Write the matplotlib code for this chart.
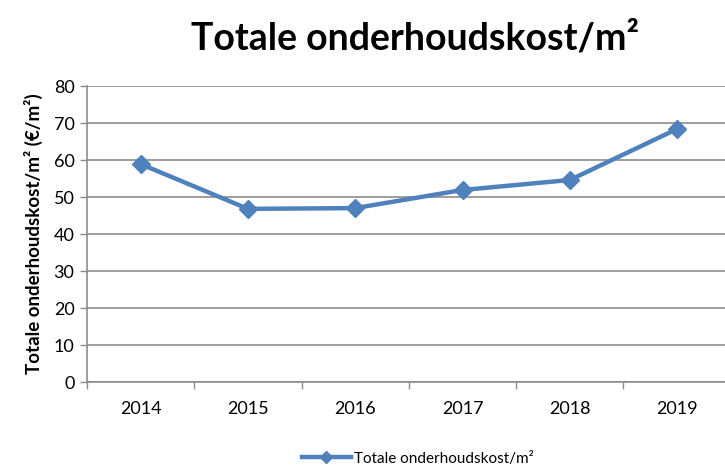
import numpy as np
import matplotlib
matplotlib.use("Agg")
import matplotlib.pyplot as plt
from matplotlib.lines import Line2D

plt.rcParams['font.family'] = ['Lato', 'DejaVu Sans']

years = ["2014", "2015", "2016", "2017", "2018", "2019"]
cost = [58.9, 46.8, 47.0, 51.9, 54.6, 68.4]
series_name = "Totale onderhoudskost/m²"
BLUE = "#4F81BD"
GRID = "#8C8C8C"

fig = plt.figure(figsize=(7.25, 4.69), dpi=100)
ax = fig.add_axes([0.12, 0.1855, 0.888, 0.6311])

x = np.arange(len(years))
ax.plot(x, cost, color=BLUE, lw=3.2, marker="D", ms=9, mec=BLUE, mfc=BLUE, zorder=3,
        clip_on=False)

ax.set_xlim(-0.5, len(years) - 0.5)
ax.set_ylim(0, 80)
ax.set_yticks(np.arange(0, 81, 10))
ax.set_xticks(x)
ax.set_xticklabels(years)
ax.set_xticks(np.arange(-0.5, len(years), 1), minor=True)
ax.tick_params(axis="x", which="major", length=0, pad=14, labelsize=13)
ax.tick_params(axis="x", which="minor", length=5, color=GRID, width=1)
ax.tick_params(axis="y", length=5, color=GRID, width=1, labelsize=13, pad=4)
ax.yaxis.grid(True, color=GRID, lw=1.2)
ax.set_axisbelow(True)
for s in ["top", "right"]:
    ax.spines[s].set_visible(False)
for s in ["left", "bottom"]:
    ax.spines[s].set_color(GRID)
    ax.spines[s].set_linewidth(1.2)

ax.set_ylabel("Totale onderhoudskost/m² (€/m²)", fontsize=13.5, fontweight="bold", labelpad=8)
fig.text(0.572, 0.919, series_name, ha="center", va="center", fontsize=27, fontweight="bold")

handle = Line2D([], [], color=BLUE, lw=3.2, marker="D", ms=6, mec=BLUE, mfc=BLUE)
fig.legend([handle], [series_name], loc="center", bbox_to_anchor=(0.576, 0.022),
           frameon=False, fontsize=11, handlelength=3.2, handletextpad=0.2)

fig.savefig("out.png", dpi=100)
